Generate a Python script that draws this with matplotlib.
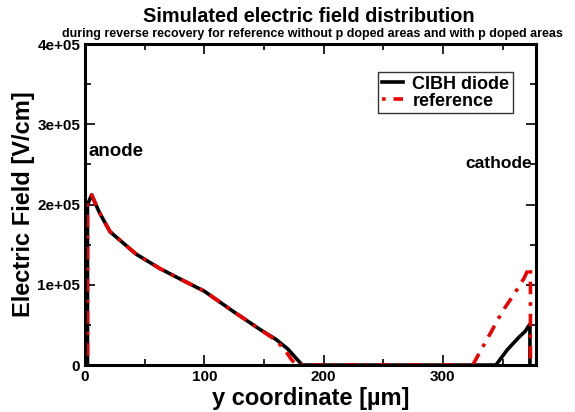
import numpy as np
import matplotlib.pyplot as plt
from matplotlib.ticker import MultipleLocator, FuncFormatter

plt.rcParams['font.family'] = ['Liberation Sans', 'DejaVu Sans']
plt.rcParams['font.weight'] = 'bold'

# y coordinate [um] and electric field [V/cm]
cibh_y = [0, 2, 2, 5.5, 12, 21, 43, 63, 80, 100, 125, 147, 160, 170, 176, 182,
          344.5, 354, 364, 369, 372.5, 373, 373]
cibh_e = [0, 0, 2.0e5, 2.12e5, 1.9e5, 1.66e5, 1.38e5, 1.2e5, 1.07e5, 0.92e5,
          0.66e5, 0.44e5, 0.32e5, 0.2e5, 0.1e5, 0,
          0, 0.19e5, 0.35e5, 0.42e5, 0.5e5, 0.5e5, 0]

ref_y = [0, 2, 2, 5.5, 12, 21, 43, 63, 80, 100, 125, 147, 160, 168, 173, 177,
         325, 340, 350, 360, 368, 372.5, 373.4, 373.4]
ref_e = [0, 0, 2.0e5, 2.12e5, 1.9e5, 1.66e5, 1.38e5, 1.2e5, 1.07e5, 0.92e5,
         0.66e5, 0.44e5, 0.31e5, 0.18e5, 0.07e5, 0,
         0, 0.4e5, 0.67e5, 0.89e5, 1.08e5, 1.22e5, 1.22e5, 0]

fig = plt.figure(figsize=(5.75, 4.12), dpi=100)
ax = fig.add_axes([0.148, 0.114, 0.784, 0.779])

ax.plot(cibh_y, cibh_e, color='black', lw=2.6, label='CIBH diode')
ax.plot(ref_y, ref_e, color='#ee0000', lw=2.6, linestyle=(0, (1, 2.2, 3.5, 2.2)),
        label='reference')

ax.set_xlim(0, 378)
ax.set_ylim(0, 4e5)
ax.xaxis.set_major_locator(MultipleLocator(100))
ax.xaxis.set_minor_locator(MultipleLocator(50))
ax.yaxis.set_major_locator(MultipleLocator(1e5))
ax.yaxis.set_minor_locator(MultipleLocator(0.5e5))
ax.yaxis.set_major_formatter(FuncFormatter(lambda v, p: '0' if v == 0 else f'{v:.0e}'))
ax.tick_params(which='both', direction='in', top=True, right=True, labelsize=11, width=1.2)
ax.tick_params(which='major', length=7)
ax.tick_params(which='minor', length=4)
for lab in ax.get_xticklabels() + ax.get_yticklabels():
    lab.set_fontweight('bold')
for s in ax.spines.values():
    s.set_linewidth(2.2)

ax.set_xlabel('y coordinate [µm]', fontsize=17, fontweight='bold', labelpad=2)
ax.set_ylabel('Electric Field [V/cm]', fontsize=17, fontweight='bold', labelpad=2)

ax.text(3, 2.6e5, 'anode', fontsize=13.5, fontweight='bold')
ax.text(319, 2.45e5, 'cathode', fontsize=12.5, fontweight='bold')

leg = ax.legend(loc='upper right', bbox_to_anchor=(0.949, 0.913),
                fancybox=False, edgecolor='black', handlelength=1.2,
                borderpad=0.2, labelspacing=0.0, handletextpad=0.5,
                borderaxespad=0.0,
                prop={'weight': 'bold', 'size': 13})
leg.get_frame().set_linewidth(1.0)

fig.text(0.537, 0.947, 'Simulated electric field distribution', ha='center',
         fontsize=14.3, fontweight='bold')
fig.text(0.543, 0.91, 'during reverse recovery for reference without p doped areas and with p doped areas',
         ha='center', fontsize=9.0, fontweight='bold')

fig.savefig('out.png', dpi=100)
